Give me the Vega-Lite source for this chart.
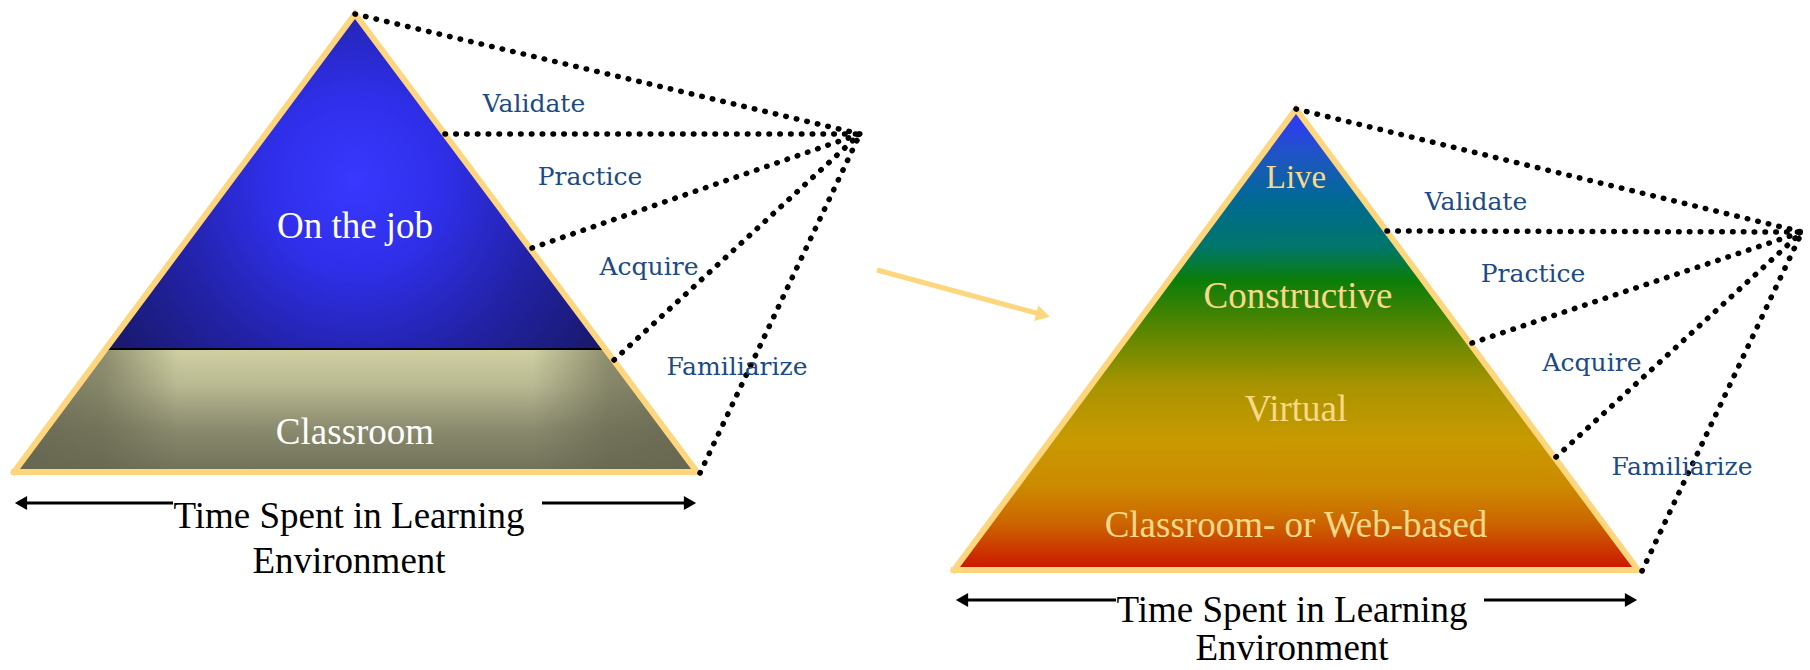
{
  "$schema": "https://vega.github.io/schema/vega-lite/v6.json",
  "width": 1810,
  "height": 670,
  "autosize": {"type": "none"},
  "padding": 0,
  "background": "white",
  "config": {"view": {"stroke": null}},
  "datasets": {
    "leftTop": [
      {"x": 105.6, "top": 349, "base": 349},
      {"x": 355, "top": 14, "base": 349},
      {"x": 605.4, "top": 349, "base": 349}
    ],
    "leftBottom": [
      {"x": 14, "top": 472, "base": 472},
      {"x": 105.6, "top": 349, "base": 472},
      {"x": 605.4, "top": 349, "base": 472},
      {"x": 697, "top": 472, "base": 472}
    ],
    "rightTri": [
      {"x": 954, "top": 570, "base": 570},
      {"x": 1296, "top": 109, "base": 570},
      {"x": 1638, "top": 570, "base": 570}
    ],
    "outline": [
      {"shape": "L", "o": 1, "x": 14, "y": 472},
      {"shape": "L", "o": 2, "x": 355, "y": 14},
      {"shape": "L", "o": 3, "x": 697, "y": 472},
      {"shape": "L", "o": 4, "x": 14, "y": 472},
      {"shape": "R", "o": 1, "x": 954, "y": 570},
      {"shape": "R", "o": 2, "x": 1296, "y": 109},
      {"shape": "R", "o": 3, "x": 1638, "y": 570},
      {"shape": "R", "o": 4, "x": 954, "y": 570}
    ],
    "dots": [
      {"x": 355, "y": 14, "x2": 860, "y2": 134},
      {"x": 445, "y": 134, "x2": 860, "y2": 134},
      {"x": 532, "y": 248, "x2": 860, "y2": 134},
      {"x": 614, "y": 360, "x2": 860, "y2": 134},
      {"x": 700, "y": 473, "x2": 860, "y2": 134},
      {"x": 1296, "y": 109, "x2": 1802, "y2": 232},
      {"x": 1387, "y": 231, "x2": 1802, "y2": 232},
      {"x": 1472, "y": 343, "x2": 1802, "y2": 232},
      {"x": 1556, "y": 457, "x2": 1802, "y2": 232},
      {"x": 1642, "y": 571, "x2": 1802, "y2": 232}
    ],
    "stages": [
      {"x": 534, "y": 104, "t": "Validate"},
      {"x": 590, "y": 177, "t": "Practice"},
      {"x": 649, "y": 267, "t": "Acquire"},
      {"x": 737, "y": 367, "t": "Familiarize"},
      {"x": 1476, "y": 202, "t": "Validate"},
      {"x": 1533, "y": 274, "t": "Practice"},
      {"x": 1592, "y": 363, "t": "Acquire"},
      {"x": 1682, "y": 467, "t": "Familiarize"}
    ],
    "arrowLines": [
      {"x": 20, "x2": 173, "y": 503},
      {"x": 542, "x2": 690, "y": 503},
      {"x": 961, "x2": 1116, "y": 600},
      {"x": 1484, "x2": 1631, "y": 600}
    ],
    "arrowHeads": [
      {"x": 21, "y": 503, "dir": "left"},
      {"x": 690, "y": 503, "dir": "right"},
      {"x": 962, "y": 600, "dir": "left"},
      {"x": 1631, "y": 600, "dir": "right"}
    ],
    "axisText": [
      {"x": 349, "y": 517, "t": "Time Spent in Learning"},
      {"x": 349, "y": 562, "t": "Environment"},
      {"x": 1292, "y": 611, "t": "Time Spent in Learning"},
      {"x": 1292, "y": 649, "t": "Environment"}
    ],
    "leftLabels": [
      {"x": 355, "y": 227, "t": "On the job"},
      {"x": 355, "y": 433, "t": "Classroom"}
    ],
    "rightLabels": [
      {"x": 1296, "y": 178, "t": "Live", "s": "small"},
      {"x": 1298, "y": 297, "t": "Constructive", "s": "big"},
      {"x": 1296, "y": 410, "t": "Virtual", "s": "big"},
      {"x": 1296, "y": 526, "t": "Classroom- or Web-based", "s": "big"}
    ]
  },
  "layer": [
    {
      "data": {"name": "leftTop"},
      "mark": {"type": "area", "orient": "vertical", "color": {"gradient": "radial", "x1": 0.5, "y1": 0.5, "r1": 0, "x2": 0.5, "y2": 0.5, "r2": 0.58, "stops": [{"offset": 0, "color": "#3838ff"}, {"offset": 0.3, "color": "#2f2fea"}, {"offset": 0.65, "color": "#2222a6"}, {"offset": 1, "color": "#19196e"}]}},
      "encoding": {
        "x": {"field": "x", "type": "quantitative", "scale": {"domain": [0, 1810], "nice": false, "zero": false}, "axis": null},
        "y": {"field": "top", "type": "quantitative", "scale": {"domain": [0, 670], "reverse": true, "nice": false, "zero": false}, "axis": null},
        "y2": {"field": "base"}
      }
    },
    {
      "data": {"name": "leftBottom"},
      "mark": {"type": "area", "orient": "vertical", "color": {"gradient": "linear", "x1": 0, "y1": 0, "x2": 0, "y2": 1, "stops": [{"offset": 0, "color": "#d0d0a2"}, {"offset": 0.3, "color": "#b8b892"}, {"offset": 0.65, "color": "#8a8a6e"}, {"offset": 1, "color": "#71715a"}]}},
      "encoding": {
        "x": {"field": "x", "type": "quantitative", "scale": {"domain": [0, 1810], "nice": false, "zero": false}, "axis": null},
        "y": {"field": "top", "type": "quantitative", "scale": {"domain": [0, 670], "reverse": true, "nice": false, "zero": false}, "axis": null},
        "y2": {"field": "base"}
      }
    },
    {
      "data": {"name": "leftBottom"},
      "mark": {"type": "area", "orient": "vertical", "color": {"gradient": "linear", "x1": 0, "y1": 0, "x2": 1, "y2": 0, "stops": [{"offset": 0, "color": "rgba(100,100,78,0.8)"}, {"offset": 0.13, "color": "rgba(100,100,78,0.6)"}, {"offset": 0.24, "color": "rgba(100,100,78,0)"}, {"offset": 0.76, "color": "rgba(100,100,78,0)"}, {"offset": 0.87, "color": "rgba(100,100,78,0.6)"}, {"offset": 1, "color": "rgba(100,100,78,0.8)"}]}},
      "encoding": {
        "x": {"field": "x", "type": "quantitative", "scale": {"domain": [0, 1810], "nice": false, "zero": false}, "axis": null},
        "y": {"field": "top", "type": "quantitative", "scale": {"domain": [0, 670], "reverse": true, "nice": false, "zero": false}, "axis": null},
        "y2": {"field": "base"}
      }
    },
    {
      "data": {"name": "rightTri"},
      "mark": {"type": "area", "orient": "vertical", "color": {"gradient": "linear", "x1": 0, "y1": 0, "x2": 0, "y2": 1, "stops": [{"offset": 0, "color": "#3333ff"}, {"offset": 0.1, "color": "#1f55c4"}, {"offset": 0.2, "color": "#006a92"}, {"offset": 0.3, "color": "#00766a"}, {"offset": 0.37, "color": "#0a7d0a"}, {"offset": 0.48, "color": "#5a8600"}, {"offset": 0.6, "color": "#a89400"}, {"offset": 0.72, "color": "#c99a00"}, {"offset": 0.82, "color": "#cc8a00"}, {"offset": 0.9, "color": "#cc6400"}, {"offset": 1, "color": "#cc1400"}]}},
      "encoding": {
        "x": {"field": "x", "type": "quantitative", "scale": {"domain": [0, 1810], "nice": false, "zero": false}, "axis": null},
        "y": {"field": "top", "type": "quantitative", "scale": {"domain": [0, 670], "reverse": true, "nice": false, "zero": false}, "axis": null},
        "y2": {"field": "base"}
      }
    },
    {
      "data": {"values": [{"x": 106, "x2": 605, "y": 349}]},
      "mark": {"type": "rule", "color": "#000000", "strokeWidth": 2},
      "encoding": {
        "x": {"field": "x", "type": "quantitative", "scale": {"domain": [0, 1810], "nice": false, "zero": false}, "axis": null},
        "x2": {"field": "x2"},
        "y": {"field": "y", "type": "quantitative", "scale": {"domain": [0, 670], "reverse": true, "nice": false, "zero": false}, "axis": null}
      }
    },
    {
      "data": {"name": "outline"},
      "mark": {"type": "line", "color": "#fdd67e", "strokeWidth": 6, "strokeJoin": "miter", "strokeCap": "square"},
      "encoding": {
        "x": {"field": "x", "type": "quantitative", "scale": {"domain": [0, 1810], "nice": false, "zero": false}, "axis": null},
        "y": {"field": "y", "type": "quantitative", "scale": {"domain": [0, 670], "reverse": true, "nice": false, "zero": false}, "axis": null},
        "detail": {"field": "shape"},
        "order": {"field": "o", "type": "quantitative"}
      }
    },
    {
      "data": {"name": "dots"},
      "mark": {"type": "rule", "color": "#000000", "strokeWidth": 5.5, "strokeCap": "round", "strokeDash": [0.5, 10.3]},
      "encoding": {
        "x": {"field": "x", "type": "quantitative", "scale": {"domain": [0, 1810], "nice": false, "zero": false}, "axis": null},
        "y": {"field": "y", "type": "quantitative", "scale": {"domain": [0, 670], "reverse": true, "nice": false, "zero": false}, "axis": null},
        "x2": {"field": "x2"},
        "y2": {"field": "y2"}
      }
    },
    {
      "data": {"values": [{"x": 877, "y": 270, "x2": 1040, "y2": 314}]},
      "mark": {"type": "rule", "color": "#fdd67e", "strokeWidth": 5},
      "encoding": {
        "x": {"field": "x", "type": "quantitative", "scale": {"domain": [0, 1810], "nice": false, "zero": false}, "axis": null},
        "y": {"field": "y", "type": "quantitative", "scale": {"domain": [0, 670], "reverse": true, "nice": false, "zero": false}, "axis": null},
        "x2": {"field": "x2"},
        "y2": {"field": "y2"}
      }
    },
    {
      "data": {"values": [{"x": 1043, "y": 315}]},
      "mark": {"type": "point", "shape": "triangle-right", "filled": true, "color": "#fdd67e", "opacity": 1, "size": 260, "angle": 15},
      "encoding": {
        "x": {"field": "x", "type": "quantitative", "scale": {"domain": [0, 1810], "nice": false, "zero": false}, "axis": null},
        "y": {"field": "y", "type": "quantitative", "scale": {"domain": [0, 670], "reverse": true, "nice": false, "zero": false}, "axis": null}
      }
    },
    {
      "data": {"name": "arrowLines"},
      "mark": {"type": "rule", "color": "#000000", "strokeWidth": 3},
      "encoding": {
        "x": {"field": "x", "type": "quantitative", "scale": {"domain": [0, 1810], "nice": false, "zero": false}, "axis": null},
        "x2": {"field": "x2"},
        "y": {"field": "y", "type": "quantitative", "scale": {"domain": [0, 670], "reverse": true, "nice": false, "zero": false}, "axis": null}
      }
    },
    {
      "data": {"name": "arrowHeads"},
      "mark": {"type": "point", "filled": true, "color": "#000000", "opacity": 1, "size": 200},
      "encoding": {
        "x": {"field": "x", "type": "quantitative", "scale": {"domain": [0, 1810], "nice": false, "zero": false}, "axis": null},
        "y": {"field": "y", "type": "quantitative", "scale": {"domain": [0, 670], "reverse": true, "nice": false, "zero": false}, "axis": null},
        "shape": {"field": "dir", "type": "nominal", "scale": {"domain": ["left", "right"], "range": ["triangle-left", "triangle-right"]}, "legend": null}
      }
    },
    {
      "data": {"name": "stages"},
      "mark": {"type": "text", "font": "DejaVu Serif", "fontSize": 25, "color": "#1b4a86", "align": "center", "baseline": "middle"},
      "encoding": {
        "x": {"field": "x", "type": "quantitative", "scale": {"domain": [0, 1810], "nice": false, "zero": false}, "axis": null},
        "y": {"field": "y", "type": "quantitative", "scale": {"domain": [0, 670], "reverse": true, "nice": false, "zero": false}, "axis": null},
        "text": {"field": "t"}
      }
    },
    {
      "data": {"name": "axisText"},
      "mark": {"type": "text", "font": "Liberation Serif", "fontSize": 37, "color": "#000000", "align": "center", "baseline": "middle"},
      "encoding": {
        "x": {"field": "x", "type": "quantitative", "scale": {"domain": [0, 1810], "nice": false, "zero": false}, "axis": null},
        "y": {"field": "y", "type": "quantitative", "scale": {"domain": [0, 670], "reverse": true, "nice": false, "zero": false}, "axis": null},
        "text": {"field": "t"}
      }
    },
    {
      "data": {"name": "leftLabels"},
      "mark": {"type": "text", "font": "Liberation Serif", "fontSize": 37, "color": "#ffffff", "align": "center", "baseline": "middle"},
      "encoding": {
        "x": {"field": "x", "type": "quantitative", "scale": {"domain": [0, 1810], "nice": false, "zero": false}, "axis": null},
        "y": {"field": "y", "type": "quantitative", "scale": {"domain": [0, 670], "reverse": true, "nice": false, "zero": false}, "axis": null},
        "text": {"field": "t"}
      }
    },
    {
      "data": {"name": "rightLabels"},
      "mark": {"type": "text", "font": "Liberation Serif", "color": "#f8d98a", "align": "center", "baseline": "middle"},
      "encoding": {
        "x": {"field": "x", "type": "quantitative", "scale": {"domain": [0, 1810], "nice": false, "zero": false}, "axis": null},
        "y": {"field": "y", "type": "quantitative", "scale": {"domain": [0, 670], "reverse": true, "nice": false, "zero": false}, "axis": null},
        "text": {"field": "t"},
        "size": {"field": "s", "type": "nominal", "scale": {"domain": ["small", "big"], "range": [33, 37]}, "legend": null}
      }
    }
  ]
}
